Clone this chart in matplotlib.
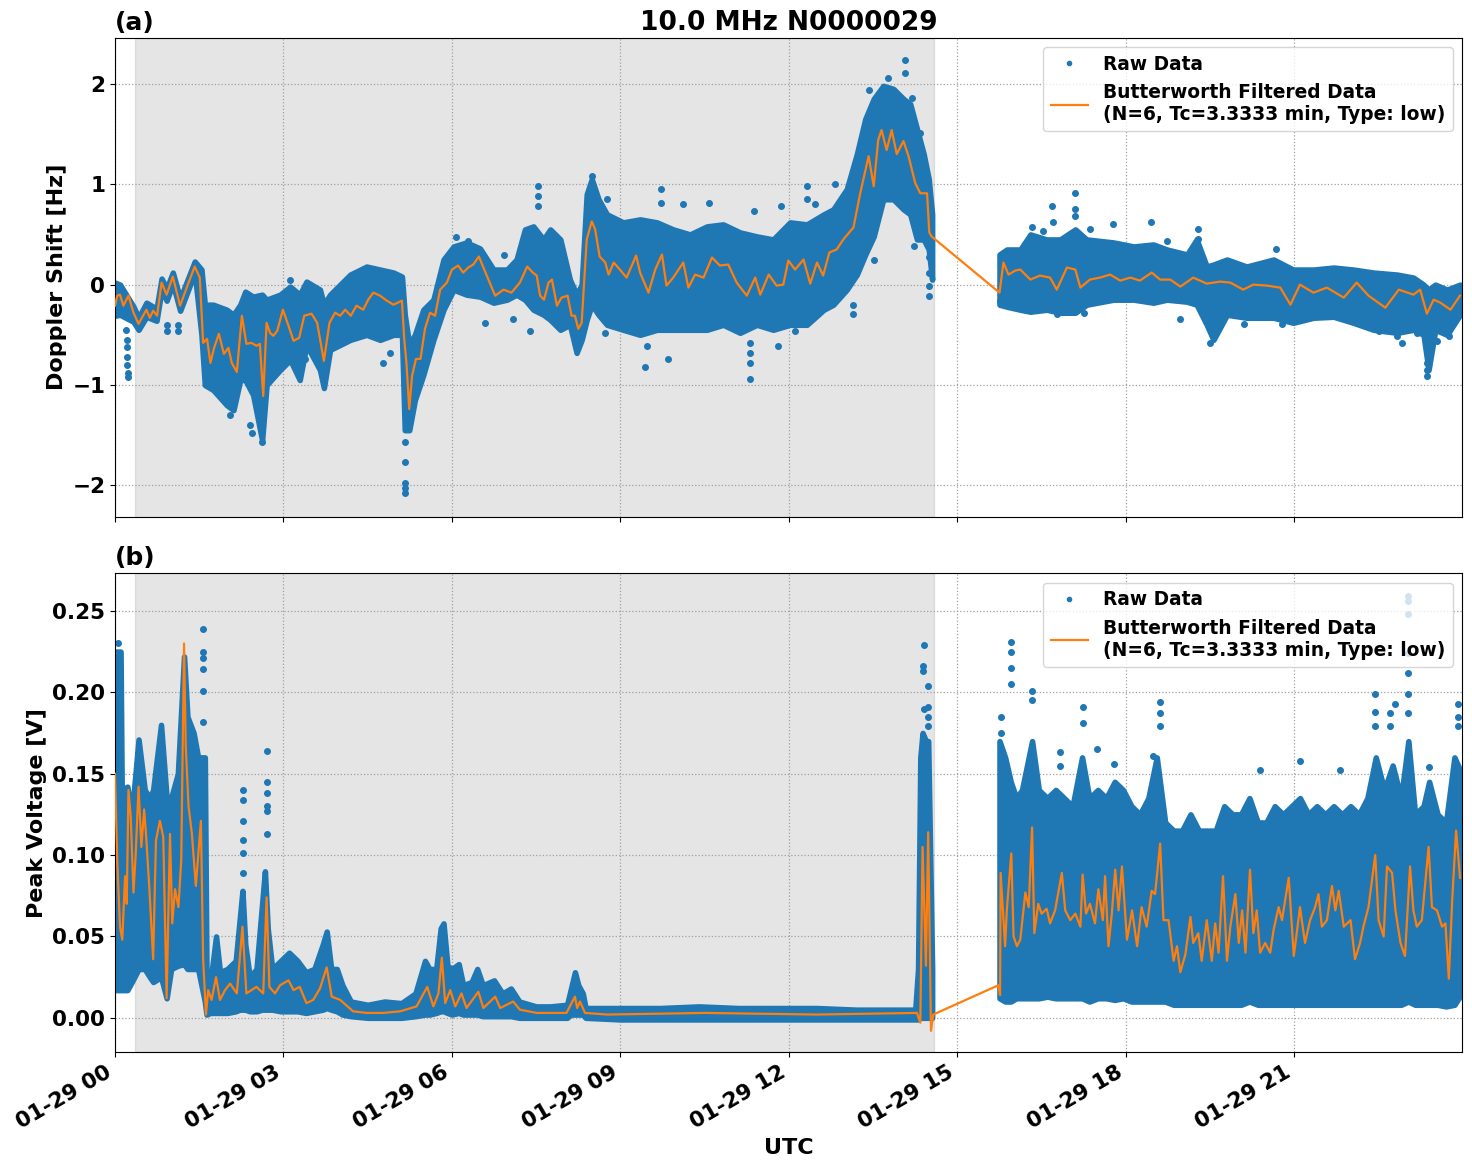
import numpy as np
import pandas as pd
import matplotlib
matplotlib.use("Agg")
import matplotlib.pyplot as plt
import matplotlib.dates as mdates

BASE = pd.Timestamp("2024-01-29")
NIGHT_START, NIGHT_END = 0.356, 14.59  # shaded interval, hours
BLUE, ORANGE = "#1f77b4", "#ff7f0e"
FILT_LABEL = "Butterworth Filtered Data\n(N=6, Tc=3.3333 min, Type: low)"

# ---- (a) Doppler shift, hours since 00 UTC ----
TOP_T_FILT = [0.00, 0.04, 0.09, 0.15, 0.24, 0.33, 0.42, 0.50, 0.56, 0.62,
              0.68, 0.75, 0.83, 0.92, 1.03, 1.16, 1.29, 1.42, 1.51, 1.57,
              1.64, 1.70, 1.76, 1.85, 1.94, 2.02, 2.08, 2.17, 2.26, 2.34,
              2.43, 2.52, 2.58, 2.64, 2.70, 2.76, 2.82, 2.89, 2.99, 3.09,
              3.18, 3.28, 3.37, 3.50, 3.60, 3.72, 3.82, 3.92, 4.01, 4.10,
              4.20, 4.30, 4.42, 4.51, 4.60, 4.72, 4.84, 4.96, 5.11, 5.15,
              5.19, 5.24, 5.29, 5.36, 5.44, 5.52, 5.61, 5.70, 5.79, 5.91,
              6.00, 6.11, 6.20, 6.29, 6.38, 6.48, 6.62, 6.77, 6.92, 7.06,
              7.21, 7.34, 7.44, 7.51, 7.57, 7.64, 7.72,
              7.78, 7.87, 7.95, 8.06, 8.13, 8.19, 8.25, 8.31, 8.40, 8.49,
              8.55, 8.63, 8.73, 8.79, 8.88, 8.99, 9.11, 9.28, 9.35, 9.50,
              9.62, 9.74, 9.82, 9.94, 10.12, 10.21, 10.33, 10.48, 10.63, 10.77,
              10.92, 11.07, 11.25, 11.40, 11.49, 11.64, 11.78, 11.90, 11.99, 12.11,
              12.26, 12.38, 12.50, 12.61, 12.72, 12.85, 12.97, 13.15, 13.27, 13.42,
              13.51, 13.59, 13.65, 13.74, 13.83, 13.92, 14.04, 14.13, 14.25, 14.34,
              14.46, 14.50, 14.54,
              15.75, 15.82, 15.91, 16.03, 16.12, 16.30, 16.47, 16.65, 16.77, 16.95,
              17.10, 17.19, 17.36, 17.54, 17.72, 17.90, 18.08, 18.25, 18.46, 18.61,
              18.79, 18.97, 19.20, 19.44, 19.68, 19.86, 20.09, 20.27, 20.51, 20.75,
              20.93, 21.10, 21.34, 21.58, 21.88, 22.11, 22.32, 22.62, 22.86, 23.12,
              23.24, 23.36, 23.48, 23.60, 23.78, 23.95]
TOP_FILT = [-0.21, -0.11, -0.10, -0.21, -0.11, -0.28, -0.39, -0.31, -0.25, -0.33,
            -0.26, -0.31, 0.02, -0.10, 0.08, -0.21, -0.01, 0.18, 0.07, -0.58,
            -0.54, -0.78, -0.64, -0.49, -0.69, -0.63, -0.78, -0.87, -0.31, -0.59,
            -0.58, -0.61, -0.59, -1.11, -0.38, -0.48, -0.51, -0.46, -0.25, -0.41,
            -0.56, -0.53, -0.31, -0.29, -0.38, -0.76, -0.38, -0.28, -0.31, -0.25,
            -0.31, -0.21, -0.25, -0.15, -0.08, -0.11, -0.16, -0.20, -0.16, -0.54,
            -0.78, -1.24, -0.91, -0.74, -0.74, -0.44, -0.28, -0.31, -0.05, 0.02,
            0.15, 0.19, 0.12, 0.17, 0.20, 0.28, 0.09, -0.11, -0.05, -0.08,
            0.02, 0.18, 0.12, 0.09, -0.11, -0.15, 0.02,
            0.05, -0.21, -0.13, -0.11, -0.31, -0.31, -0.44, -0.38, 0.45, 0.63,
            0.55, 0.28, 0.22, 0.10, 0.22, 0.15, 0.07, 0.29, 0.12, -0.08,
            0.15, 0.30, -0.01, 0.07, 0.22, -0.03, 0.10, 0.07, 0.27, 0.19,
            0.20, 0.02, -0.11, 0.07, -0.10, 0.10, -0.01, 0.00, 0.24, 0.15,
            0.25, 0.01, 0.22, 0.09, 0.32, 0.35, 0.45, 0.57, 0.91, 1.28,
            0.98, 1.44, 1.54, 1.34, 1.54, 1.30, 1.43, 1.28, 1.01, 0.91,
            0.91, 0.52, 0.48,
            -0.08, 0.22, 0.10, 0.14, 0.15, 0.05, 0.09, 0.07, -0.05, 0.17,
            0.15, -0.03, 0.05, 0.07, 0.10, 0.04, 0.07, 0.04, 0.12, 0.05,
            0.05, -0.02, 0.07, 0.01, 0.03, 0.02, -0.05, 0.00, -0.01, -0.03,
            -0.20, 0.00, -0.08, -0.03, -0.13, 0.02, -0.11, -0.23, -0.05, -0.10,
            -0.05, -0.29, -0.15, -0.18, -0.25, -0.11]

# envelope of the dense raw-data cloud
TOP_T_ENV = [0.00, 0.09, 0.33, 0.42, 0.56, 0.74, 0.83, 0.92, 1.03, 1.16,
             1.42, 1.54, 1.60, 1.75, 1.99, 2.11, 2.23, 2.32, 2.46, 2.62,
             2.70, 2.94, 3.12, 3.29, 3.41, 3.65, 3.72, 3.83, 4.19, 4.48,
             4.72, 4.96, 5.11, 5.16, 5.24, 5.34, 5.49, 5.67, 5.85, 6.03,
             6.26, 6.50, 6.74, 6.98, 7.15, 7.30, 7.45, 7.63,
             7.75, 7.93, 8.10, 8.22, 8.31, 8.40, 8.49, 8.61, 8.76, 9.05,
             9.35, 9.65, 9.94, 10.24, 10.54, 10.83, 11.13, 11.43, 11.72, 12.02,
             12.32, 12.62, 12.79, 13.03, 13.21, 13.36, 13.51, 13.68, 13.86, 14.04,
             14.16, 14.28, 14.40, 14.49, 14.55,
             15.75, 15.88, 16.12, 16.30, 16.59, 16.83, 17.10, 17.30, 17.78, 18.14,
             18.49, 18.73, 19.09, 19.26, 19.44, 19.56, 19.80, 20.15, 20.63, 20.98,
             21.34, 21.70, 22.05, 22.41, 22.83, 23.12, 23.30, 23.39, 23.51, 23.72,
             23.95]
TOP_LO = [-0.31, -0.30, -0.37, -0.45, -0.32, -0.36, -0.05, -0.16, 0.01, -0.26,
          0.12, -0.50, -1.00, -1.05, -1.20, -1.25, -0.95, -0.95, -1.10, -1.55,
          -1.00, -0.85, -0.75, -0.95, -0.60, -0.85, -1.03, -0.65, -0.55, -0.50,
          -0.55, -0.50, -0.50, -1.45, -1.45, -1.15, -0.90, -0.55, -0.25, -0.05,
          -0.10, -0.12, -0.18, -0.15, -0.10, -0.15, -0.25, -0.30,
          -0.35, -0.45, -0.40, -0.68, -0.55, -0.35, -0.20, -0.30, -0.40, -0.45,
          -0.50, -0.45, -0.45, -0.45, -0.45, -0.40, -0.48, -0.40, -0.45, -0.40,
          -0.40, -0.25, -0.20, -0.05, 0.10, 0.30, 0.48, 0.85, 0.85, 0.75,
          0.70, 0.45, 0.45, 0.35, 0.05,
          -0.20, -0.22, -0.25, -0.27, -0.25, -0.28, -0.28, -0.20, -0.15, -0.15,
          -0.18, -0.15, -0.17, -0.20, -0.40, -0.55, -0.30, -0.33, -0.33, -0.38,
          -0.33, -0.32, -0.38, -0.45, -0.48, -0.45, -0.50, -0.85, -0.45, -0.50,
          -0.30]
TOP_HI = [0.02, 0.00, -0.22, -0.33, -0.18, -0.24, 0.06, -0.04, 0.12, -0.14,
          0.23, 0.15, -0.20, -0.20, -0.25, -0.30, -0.20, -0.07, -0.12, -0.10,
          -0.15, -0.10, -0.02, -0.10, 0.03, -0.05, -0.20, -0.10, 0.10, 0.18,
          0.15, 0.12, 0.08, -0.30, -0.60, -0.50, -0.25, -0.15, 0.25, 0.38,
          0.42, 0.36, 0.15, 0.15, 0.25, 0.55, 0.58, 0.45,
          0.55, 0.45, 0.05, -0.10, 0.00, 0.90, 1.05, 0.85, 0.70, 0.62,
          0.65, 0.62, 0.55, 0.50, 0.58, 0.60, 0.52, 0.48, 0.45, 0.62,
          0.60, 0.70, 0.75, 0.95, 1.30, 1.65, 1.85, 1.98, 1.95, 1.85,
          1.80, 1.55, 1.30, 1.05, 0.70,
          0.30, 0.35, 0.35, 0.50, 0.45, 0.45, 0.55, 0.45, 0.42, 0.38,
          0.40, 0.35, 0.30, 0.45, 0.18, 0.20, 0.25, 0.18, 0.25, 0.15,
          0.15, 0.17, 0.15, 0.12, 0.10, 0.07, 0.00, -0.05, 0.00, -0.05,
          0.00]

# isolated raw points outside the cloud
TOP_T_OUT = [0.20, 0.21, 0.21, 0.22, 0.22, 0.23, 0.23, 0.92, 0.92, 1.13, 1.13,
             2.04, 2.40, 2.44, 2.62, 3.12, 3.38, 4.77, 4.90,
             5.16, 5.16, 5.16, 5.16, 5.16, 6.08, 6.29, 6.59, 6.92, 7.09, 7.39,
             7.54, 7.54, 7.54, 8.49, 8.72, 8.76, 9.43, 9.47, 9.72, 9.72, 9.85,
             10.12, 10.57, 11.30, 11.30, 11.30, 11.30, 11.37, 11.81, 11.86,
             12.11, 12.32, 12.32, 12.47, 12.82, 13.15, 13.15, 13.42, 13.51, 13.77,
             14.07, 14.07, 14.19, 14.22, 14.34, 14.50, 14.50, 14.50, 14.50,
             15.76, 16.33, 16.53, 16.68, 16.71, 16.78, 17.09, 17.09, 17.09,
             17.25, 17.36, 17.77, 18.45, 18.73, 18.96,
             19.29, 19.29, 19.49, 19.56, 20.11, 20.68, 20.78, 21.37,
             22.50, 22.83, 22.91, 23.18, 23.37, 23.37, 23.37, 23.37, 23.37,
             23.54, 23.75]
TOP_OUT = [-0.45, -0.55, -0.62, -0.72, -0.80, -0.88, -0.92, -0.40, -0.46, -0.40, -0.46,
           -1.30, -1.40, -1.48, -1.57, 0.05, -0.74, -0.78, -0.68,
           -1.57, -1.77, -1.98, -2.03, -2.08, 0.47, 0.43, -0.38, 0.30, -0.34, -0.46,
           0.98, 0.88, 0.78, 1.08, -0.48, 0.85, -0.82, -0.61, 0.95, 0.81, -0.74,
           0.80, 0.81, -0.58, -0.68, -0.78, -0.94, 0.73, -0.61, 0.78,
           -0.46, 0.98, 0.85, 0.80, 1.00, -0.20, -0.29, 1.94, 0.25, 2.06,
           2.24, 2.11, 1.86, 0.38, 1.51, 0.28, 0.12, -0.01, -0.11,
           -0.16, 0.57, 0.53, 0.78, 0.62, -0.29, 0.91, 0.75, 0.68,
           -0.28, 0.55, 0.60, 0.62, 0.43, -0.34,
           0.55, 0.45, -0.58, -0.51, -0.39, 0.35, -0.39, -0.31,
           -0.46, -0.51, -0.58, -0.48, -0.58, -0.68, -0.78, -0.85, -0.91,
           -0.56, -0.51]

# ---- (b) Peak voltage ----
BOT_T_FILT = [0.00, 0.04, 0.09, 0.13, 0.18, 0.21, 0.24, 0.28, 0.33, 0.37,
              0.42, 0.47, 0.52, 0.56, 0.61, 0.68, 0.73, 0.80, 0.86, 0.92,
              0.98, 1.02, 1.07, 1.13, 1.18, 1.23, 1.26, 1.31, 1.37, 1.44,
              1.53, 1.57, 1.62, 1.66, 1.72, 1.80, 1.87, 1.96, 2.05, 2.17,
              2.27, 2.34, 2.52, 2.64, 2.70, 2.75, 2.85, 2.94, 3.09, 3.18,
              3.29, 3.41, 3.53, 3.65, 3.77, 3.86, 4.01, 4.24, 4.48, 4.78,
              5.08, 5.37, 5.56, 5.67, 5.76, 5.82, 5.88, 5.97, 6.06, 6.17,
              6.26, 6.47, 6.56, 6.77, 6.86, 7.09, 7.21, 7.51, 7.75,
              8.04, 8.16, 8.19, 8.23, 8.28, 8.37, 8.76, 10.50, 12.50, 14.28,
              14.34, 14.38, 14.44, 14.48, 14.53, 14.57,
              15.73, 15.76, 15.77, 15.85, 15.88, 15.96, 16.00, 16.06, 16.12, 16.21,
              16.27, 16.33, 16.37, 16.44, 16.50, 16.59, 16.65, 16.74, 16.86, 16.92,
              17.01, 17.10, 17.19, 17.23, 17.29, 17.36, 17.45, 17.51, 17.59, 17.63,
              17.69, 17.75, 17.81, 17.87, 17.93, 18.02, 18.11, 18.20, 18.28, 18.37,
              18.46, 18.52, 18.61, 18.67, 18.76, 18.85, 18.91, 18.97, 19.06, 19.15,
              19.20, 19.29, 19.35, 19.44, 19.53, 19.59, 19.65, 19.73, 19.80, 19.86,
              19.95, 20.01, 20.07, 20.13, 20.21, 20.27, 20.33, 20.39, 20.48, 20.57,
              20.63, 20.72, 20.78, 20.90, 20.99, 21.05, 21.10, 21.19, 21.28, 21.37,
              21.43, 21.49, 21.58, 21.67, 21.73, 21.79, 21.88, 22.00, 22.08, 22.17,
              22.23, 22.32, 22.44, 22.50, 22.59, 22.65, 22.74, 22.80, 22.89, 22.97,
              23.06, 23.12, 23.18, 23.27, 23.39, 23.45, 23.54, 23.63, 23.69, 23.75,
              23.81, 23.88, 23.95]
BOT_FILT = [0.150, 0.097, 0.056, 0.048, 0.087, 0.070, 0.140, 0.124, 0.077, 0.101,
            0.142, 0.105, 0.128, 0.109, 0.081, 0.036, 0.109, 0.121, 0.111, 0.012,
            0.113, 0.058, 0.079, 0.068, 0.097, 0.230, 0.167, 0.130, 0.113, 0.081,
            0.121, 0.036, 0.002, 0.017, 0.011, 0.025, 0.011, 0.017, 0.021, 0.015,
            0.056, 0.015, 0.019, 0.015, 0.074, 0.019, 0.015, 0.020, 0.023, 0.017,
            0.019, 0.009, 0.011, 0.018, 0.031, 0.013, 0.011, 0.004, 0.003, 0.003,
            0.004, 0.007, 0.019, 0.007, 0.015, 0.037, 0.009, 0.017, 0.007, 0.015,
            0.006, 0.016, 0.006, 0.013, 0.006, 0.010, 0.005, 0.003, 0.003,
            0.003, 0.011, 0.013, 0.006, 0.010, 0.003, 0.002, 0.003, 0.002, 0.003,
            -0.003, 0.105, 0.032, 0.114, -0.008, 0.002,
            0.020, 0.014, 0.089, 0.044, 0.066, 0.101, 0.050, 0.044, 0.048, 0.077,
            0.068, 0.117, 0.052, 0.070, 0.064, 0.067, 0.058, 0.066, 0.089, 0.066,
            0.060, 0.064, 0.056, 0.088, 0.064, 0.070, 0.058, 0.079, 0.060, 0.087,
            0.044, 0.064, 0.091, 0.066, 0.093, 0.048, 0.066, 0.044, 0.068, 0.056,
            0.078, 0.076, 0.107, 0.060, 0.060, 0.035, 0.044, 0.028, 0.039, 0.062,
            0.046, 0.052, 0.035, 0.060, 0.035, 0.058, 0.040, 0.087, 0.035, 0.056,
            0.076, 0.046, 0.066, 0.040, 0.091, 0.052, 0.066, 0.040, 0.046, 0.040,
            0.054, 0.068, 0.060, 0.086, 0.038, 0.054, 0.068, 0.046, 0.060, 0.068,
            0.076, 0.056, 0.060, 0.081, 0.066, 0.078, 0.056, 0.060, 0.036, 0.046,
            0.056, 0.068, 0.100, 0.060, 0.050, 0.093, 0.089, 0.066, 0.046, 0.038,
            0.093, 0.066, 0.056, 0.060, 0.105, 0.068, 0.066, 0.056, 0.058, 0.024,
            0.072, 0.115, 0.086]

BOT_T_ENV = [0.00, 0.10, 0.12, 0.22, 0.30, 0.42, 0.53, 0.62, 0.68, 0.82,
             0.92, 1.00, 1.12, 1.23, 1.29, 1.40, 1.48, 1.60, 1.63, 1.70,
             1.80, 1.87, 2.00, 2.15, 2.22, 2.27, 2.32, 2.40, 2.52, 2.62,
             2.67, 2.72, 2.80, 2.95, 3.10, 3.25, 3.40, 3.55, 3.70, 3.77,
             3.85, 3.95, 4.05, 4.20, 4.50, 4.80, 5.10, 5.35, 5.52, 5.60,
             5.72, 5.80, 5.85, 5.92, 6.00, 6.12, 6.20, 6.35, 6.45, 6.55,
             6.75, 6.90, 7.05, 7.20, 7.50, 7.75,
             8.05, 8.12, 8.19, 8.25, 8.33, 8.38, 9.00, 9.70, 10.40, 11.10,
             11.80, 12.50, 13.20, 13.80, 14.25, 14.30, 14.34, 14.38, 14.44, 14.48,
             14.52, 14.55,
             15.75, 15.85, 15.95, 16.05, 16.15, 16.33, 16.45, 16.60, 16.75, 16.90,
             17.05, 17.22, 17.35, 17.50, 17.65, 17.80, 17.95, 18.10, 18.25, 18.40,
             18.55, 18.70, 18.85, 19.00, 19.15, 19.30, 19.45, 19.60, 19.75, 19.90,
             20.05, 20.20, 20.35, 20.50, 20.65, 20.80, 20.95, 21.10, 21.25, 21.40,
             21.55, 21.70, 21.85, 22.00, 22.15, 22.30, 22.45, 22.60, 22.75, 22.90,
             23.03, 23.15, 23.30, 23.40, 23.55, 23.70, 23.85, 23.98]
BOT_LO = [0.017, 0.017, 0.017, 0.017, 0.022, 0.030, 0.030, 0.025, 0.022, 0.025,
          0.012, 0.030, 0.032, 0.033, 0.030, 0.030, 0.030, 0.010, 0.002, 0.003,
          0.003, 0.003, 0.003, 0.004, 0.005, 0.005, 0.005, 0.004, 0.004, 0.005,
          0.005, 0.005, 0.005, 0.004, 0.004, 0.004, 0.003, 0.004, 0.005, 0.006,
          0.005, 0.004, 0.002, 0.001, 0.000, 0.000, 0.000, 0.001, 0.002, 0.002,
          0.003, 0.004, 0.004, 0.003, 0.002, 0.003, 0.002, 0.002, 0.002, 0.001,
          0.001, 0.001, 0.001, 0.000, 0.000, 0.000,
          0.000, 0.002, 0.002, 0.002, 0.002, 0.000, -0.001, -0.001, -0.001, -0.001,
          -0.001, -0.001, -0.001, -0.001, -0.001, -0.001, 0.000, 0.000, 0.000, 0.000,
          0.000, 0.000,
          0.012, 0.010, 0.010, 0.012, 0.012, 0.012, 0.012, 0.013, 0.012, 0.012,
          0.012, 0.012, 0.010, 0.012, 0.012, 0.011, 0.012, 0.010, 0.010, 0.010,
          0.010, 0.010, 0.008, 0.008, 0.008, 0.008, 0.008, 0.008, 0.008, 0.008,
          0.008, 0.010, 0.008, 0.008, 0.008, 0.008, 0.008, 0.008, 0.008, 0.008,
          0.008, 0.008, 0.008, 0.008, 0.008, 0.008, 0.008, 0.008, 0.008, 0.008,
          0.010, 0.008, 0.008, 0.008, 0.008, 0.007, 0.008, 0.015]
BOT_HI = [0.225, 0.225, 0.140, 0.142, 0.125, 0.171, 0.140, 0.135, 0.140, 0.180,
          0.135, 0.135, 0.150, 0.222, 0.185, 0.175, 0.160, 0.160, 0.025, 0.022,
          0.050, 0.028, 0.030, 0.035, 0.060, 0.078, 0.045, 0.025, 0.030, 0.070,
          0.090, 0.055, 0.030, 0.035, 0.040, 0.035, 0.028, 0.030, 0.045, 0.053,
          0.030, 0.030, 0.020, 0.010, 0.008, 0.010, 0.009, 0.015, 0.035, 0.030,
          0.030, 0.055, 0.058, 0.032, 0.030, 0.033, 0.020, 0.022, 0.030, 0.020,
          0.023, 0.015, 0.018, 0.010, 0.007, 0.007,
          0.008, 0.018, 0.028, 0.020, 0.015, 0.006, 0.006, 0.006, 0.007, 0.006,
          0.006, 0.006, 0.005, 0.005, 0.005, 0.030, 0.160, 0.175, 0.170, 0.170,
          0.090, 0.030,
          0.170, 0.160, 0.145, 0.135, 0.140, 0.170, 0.140, 0.135, 0.140, 0.135,
          0.130, 0.160, 0.135, 0.140, 0.135, 0.145, 0.140, 0.130, 0.125, 0.135,
          0.160, 0.120, 0.115, 0.115, 0.125, 0.115, 0.115, 0.115, 0.130, 0.125,
          0.125, 0.135, 0.120, 0.120, 0.130, 0.125, 0.130, 0.135, 0.125, 0.130,
          0.125, 0.130, 0.125, 0.130, 0.125, 0.135, 0.160, 0.140, 0.155, 0.135,
          0.170, 0.125, 0.130, 0.145, 0.125, 0.120, 0.160, 0.150]

BOT_T_OUT = [0.05, 0.05, 0.05, 1.56, 1.56, 1.56, 1.56, 1.56, 1.56,
             2.28, 2.28, 2.28, 2.28, 2.28, 2.28, 2.71, 2.71, 2.71, 2.71, 2.71, 2.71,
             14.38, 14.38, 14.40, 14.40, 14.48, 14.48, 14.48, 14.48,
             15.77, 15.77, 15.96, 15.96, 15.96, 15.96, 16.33, 16.33, 16.82, 16.82,
             17.23, 17.23, 17.48, 17.78, 18.49, 18.61, 18.61, 18.61,
             20.38, 21.10, 21.82, 22.44, 22.44, 22.44, 22.71, 22.71, 22.79,
             23.03, 23.03, 23.03, 23.03, 23.03, 23.03, 23.03, 23.39,
             23.91, 23.91, 23.91]
BOT_OUT = [0.230, 0.215, 0.205, 0.239, 0.225, 0.221, 0.214, 0.201, 0.182,
           0.140, 0.134, 0.121, 0.109, 0.101, 0.089, 0.164, 0.145, 0.138, 0.130, 0.127, 0.113,
           0.216, 0.213, 0.229, 0.190, 0.204, 0.191, 0.185, 0.179,
           0.185, 0.175, 0.231, 0.225, 0.215, 0.205, 0.201, 0.195, 0.163, 0.155,
           0.191, 0.181, 0.165, 0.156, 0.161, 0.194, 0.187, 0.179,
           0.152, 0.158, 0.152, 0.199, 0.188, 0.179, 0.187, 0.179, 0.193,
           0.259, 0.256, 0.248, 0.224, 0.212, 0.199, 0.187, 0.154,
           0.193, 0.185, 0.179]


def to_dates(hours):
    return BASE + pd.to_timedelta(np.asarray(hours, dtype=float), unit="h")


def draw_panel(ax, t_env, lo, hi, t_out, out, t_filt, filt):
    """Raw cloud (envelope + isolated points), filtered curve, night shading."""
    t_env = np.asarray(t_env)
    lo, hi = np.asarray(lo), np.asarray(hi)
    # split the cloud where the recording has a gap (~14:35 to 15:45)
    breaks = np.where(np.diff(t_env) > 1.0)[0] + 1
    for seg in np.split(np.arange(len(t_env)), breaks):
        ax.fill_between(to_dates(t_env[seg]), lo[seg], hi[seg],
                        color=BLUE, lw=4, zorder=2)
    ax.plot(to_dates(t_out), out, ".", color=BLUE, ms=8, label="Raw Data", zorder=2)
    ax.plot(to_dates(t_filt), filt, color=ORANGE, lw=1.6, label=FILT_LABEL, zorder=3)
    start, end = to_dates([NIGHT_START, NIGHT_END])
    ax.axvspan(start, end, color="gray", alpha=0.2, zorder=0)
    ax.grid(True, linestyle=":", color="#a0a0a0", lw=0.9)
    ax.legend(loc="upper right", markerscale=0.75,
              prop={"weight": "bold", "size": 13.4})
    ax.tick_params(labelsize=15.5)


plt.rcParams["font.weight"] = "bold"
plt.rcParams["axes.labelweight"] = "bold"
plt.rcParams["axes.titleweight"] = "bold"

fig, (ax1, ax2) = plt.subplots(2, 1, figsize=(14.72, 11.72), dpi=100, sharex=True)

draw_panel(ax1, TOP_T_ENV, TOP_LO, TOP_HI, TOP_T_OUT, TOP_OUT, TOP_T_FILT, TOP_FILT)
draw_panel(ax2, BOT_T_ENV, BOT_LO, BOT_HI, BOT_T_OUT, BOT_OUT, BOT_T_FILT, BOT_FILT)

ax1.set_ylim(-2.31, 2.457)
ax2.set_ylim(-0.021, 0.273)
ax1.set_ylabel("Doppler Shift [Hz]", fontsize=16)
ax2.set_ylabel("Peak Voltage [V]", fontsize=16)
ax2.set_xlabel("UTC", fontsize=16)
ax1.set_title("10.0 MHz N0000029", fontsize=19)
ax1.set_title("(a)", loc="left", fontsize=18)
ax2.set_title("(b)", loc="left", fontsize=18)

ax2.set_xlim(to_dates([0.0, 23.985]))
ax2.xaxis.set_major_locator(mdates.HourLocator(byhour=range(0, 24, 3)))
ax2.xaxis.set_major_formatter(mdates.DateFormatter("%m-%d %H"))
fig.autofmt_xdate(bottom=0.1024)
fig.subplots_adjust(left=0.0781, right=0.9932, top=0.9676, bottom=0.1024, hspace=0.119)

fig.savefig("out.png", dpi=100)
